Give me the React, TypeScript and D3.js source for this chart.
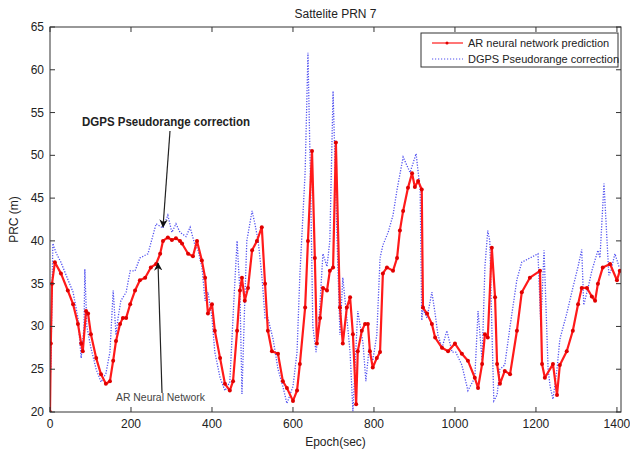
import React from "react";
import * as d3 from "d3";

const xTicks = [0, 200, 400, 600, 800, 1000, 1200, 1400];
const yTicks = [20, 25, 30, 35, 40, 45, 50, 55, 60, 65];

const arEpoch = [0, 2, 5, 12, 27, 44, 57, 69, 77, 81, 89, 94, 101, 114, 126, 138, 148, 156, 163, 173, 180, 188, 198, 210, 222, 235, 249, 262, 272, 279, 291, 301, 311, 321, 326, 341, 353, 363, 375, 383, 390, 400, 407, 420, 432, 444, 452, 462, 469, 474, 481, 489, 499, 511, 523, 531, 538, 548, 563, 575, 585, 600, 610, 617, 630, 637, 647, 654, 659, 667, 674, 684, 691, 699, 706, 716, 723, 733, 741, 748, 756, 760, 770, 778, 785, 790, 797, 807, 815, 822, 832, 847, 857, 864, 872, 884, 894, 901, 909, 918, 921, 931, 943, 951, 968, 983, 1000, 1017, 1032, 1049, 1057, 1067, 1074, 1081, 1091, 1099, 1104, 1111, 1123, 1136, 1153, 1165, 1185, 1210, 1215, 1222, 1242, 1252, 1259, 1276, 1291, 1304, 1313, 1326, 1338, 1346, 1353, 1365, 1383, 1400, 1407];
const arValue = [20, 28, 35, 37.5, 36.2, 34.2, 32.6, 30.3, 28, 27.1, 31.8, 31.5, 29.1, 26.3, 24.4, 23.3, 23.6, 26, 28.3, 30.3, 31, 31, 32.6, 34.2, 35.4, 35.7, 36.9, 37.3, 38.5, 40, 40.4, 40.1, 40.3, 40, 39.7, 38.5, 38.2, 40, 37.7, 35.7, 31.5, 32.6, 29.5, 26.3, 23.3, 22.5, 23.6, 29.5, 34.2, 35.7, 33, 34.5, 38.9, 40, 41.6, 35, 29.5, 27.1, 26.8, 23.6, 22.8, 21.3, 22.5, 25.6, 32.2, 40, 50.5, 38, 28, 31, 34.5, 34.2, 36.5, 36.9, 51.5, 32.2, 28, 32.2, 33.4, 29.1, 20.9, 27.1, 29.5, 30.3, 30.3, 27.1, 25.2, 26.3, 27, 36.2, 36.9, 36.5, 38, 41.2, 43.5, 46.2, 47.9, 46.3, 47, 46, 32.2, 31.5, 30.3, 28.7, 27.5, 27.1, 28, 26.8, 26, 24, 22.8, 25.6, 29.1, 28.7, 39.2, 33.4, 25.6, 23.3, 24.8, 24.4, 29.5, 34, 35.7, 36.5, 25.6, 24, 25.6, 22, 25.5, 27.1, 29.5, 32.6, 34.5, 34.5, 33.5, 33, 35, 36.9, 37.3, 35.4, 36.5];

const dgpsEpoch = [0, 2, 7, 15, 27, 44, 57, 69, 77, 84, 86, 91, 101, 114, 126, 138, 148, 156, 163, 168, 175, 188, 198, 210, 222, 242, 262, 279, 291, 301, 311, 321, 336, 346, 358, 365, 375, 383, 390, 400, 407, 420, 432, 444, 454, 462, 469, 474, 481, 486, 499, 506, 514, 523, 531, 538, 551, 563, 575, 585, 600, 610, 617, 630, 637, 644, 649, 657, 662, 667, 674, 684, 691, 699, 709, 716, 723, 733, 741, 748, 756, 760, 773, 780, 788, 797, 807, 815, 822, 835, 847, 857, 872, 889, 896, 904, 914, 918, 921, 931, 943, 951, 958, 968, 980, 993, 1002, 1017, 1032, 1049, 1057, 1067, 1074, 1081, 1086, 1091, 1096, 1104, 1111, 1123, 1136, 1153, 1165, 1185, 1205, 1212, 1220, 1230, 1235, 1242, 1252, 1259, 1276, 1291, 1304, 1313, 1318, 1331, 1338, 1353, 1358, 1368, 1380, 1385, 1395, 1405, 1410];
const dgpsValue = [24, 25, 39.7, 38.6, 37.5, 35.5, 34, 31, 26.3, 30, 36.7, 30, 27.5, 25, 23.5, 24.5, 27, 34.2, 29, 31, 33, 34, 36.5, 36.5, 38, 38.5, 42, 41.5, 43, 41, 42, 41, 40.5, 41.6, 39.5, 39, 37, 33, 34, 31, 27, 24, 22.5, 23.5, 33, 40, 34, 22.1, 33, 40, 43.5, 42, 40, 36, 31, 31, 28.5, 25, 23, 21, 23, 27, 36, 48, 62, 45, 30, 27, 29, 33, 38.5, 37, 40, 57.5, 40, 29, 35.7, 31, 27, 20.1, 28, 31.8, 28, 23.6, 27.5, 26, 29, 38, 39.5, 41, 43, 46, 49.8, 48, 49, 50.2, 46, 30.7, 32, 31, 34, 31.5, 29, 27.5, 29.5, 27, 27, 25.5, 22.5, 24, 31.8, 26, 37, 41.2, 40, 30, 21.3, 22, 25, 25.5, 30, 35.5, 37.5, 38, 38.5, 30, 38.9, 25, 23, 21.5, 25, 28.5, 31.5, 34.5, 37, 39, 32.5, 35, 36.5, 38.9, 38, 46.7, 36, 36.5, 38.5, 37];

const W = 630;
const H = 454;
const L = 50, R = 621, T = 27, B = 412;

export default function App() {
  const x = d3.scaleLinear().domain([0, 1410]).range([L, R]);
  const y = d3.scaleLinear().domain([20, 65]).range([B, T]);
  const ar = arEpoch.map((e, i) => [e, arValue[i]] as [number, number]);
  const dg = dgpsEpoch.map((e, i) => [e, dgpsValue[i]] as [number, number]);
  const line = d3.line<[number, number]>().x((d) => x(d[0])).y((d) => y(d[1]));
  const font = "Arial, 'Liberation Sans', sans-serif";
  const red = "#ff1a1a";
  const blue = "#5050f0";
  const tickLen = 5;
  return (
    <svg width={W} height={H} style={{ position: "absolute", left: 0, top: 0, background: "#fff" }} fontFamily={font}>
      <defs>
        <clipPath id="plot">
          <rect x={L} y={T} width={R - L} height={B - T} />
        </clipPath>
        <marker id="ah" viewBox="0 0 10 10" refX="9" refY="5" markerWidth="7" markerHeight="7" orient="auto">
          <path d="M0,0 L10,5 L0,10 L3,5 z" fill="#111" />
        </marker>
      </defs>
      <rect x={0} y={0} width={W} height={H} fill="#fff" />
      <text x={(L + R) / 2} y={18} textAnchor="middle" fontSize={12} fill="#222">Sattelite PRN 7</text>
      <g clipPath="url(#plot)">
        <path d={line(dg) || ""} fill="none" stroke={blue} strokeWidth={1.3} strokeDasharray="1.2,1.5" />
        <path d={line(ar) || ""} fill="none" stroke={red} strokeWidth={2.2} strokeLinejoin="round" />
        {ar.map((d, i) => (
          <circle key={i} cx={x(d[0])} cy={y(d[1])} r={2} fill="#e00000" />
        ))}
      </g>
      <rect x={L} y={T} width={R - L} height={B - T} fill="none" stroke="#333" strokeWidth={1} />
      {xTicks.map((t) => (
        <g key={"x" + t}>
          <line x1={x(t)} x2={x(t)} y1={B} y2={B - tickLen} stroke="#333" />
          <line x1={x(t)} x2={x(t)} y1={T} y2={T + tickLen} stroke="#333" />
          <text x={x(t)} y={B + 16} textAnchor="middle" fontSize={12} fill="#222">{t}</text>
        </g>
      ))}
      {yTicks.map((t) => (
        <g key={"y" + t}>
          <line x1={L} x2={L + tickLen} y1={y(t)} y2={y(t)} stroke="#333" />
          <line x1={R} x2={R - tickLen} y1={y(t)} y2={y(t)} stroke="#333" />
          <text x={L - 6} y={y(t) + 4} textAnchor="end" fontSize={12} fill="#222">{t}</text>
        </g>
      ))}
      <text x={(L + R) / 2} y={446} textAnchor="middle" fontSize={12} fill="#222">Epoch(sec)</text>
      <text transform={`translate(18, ${(T + B) / 2}) rotate(-90)`} textAnchor="middle" fontSize={12} fill="#222">PRC (m)</text>
      <g>
        <rect x={421} y={33} width={197} height={34} fill="#fff" stroke="#333" strokeWidth={1} />
        <line x1={432} x2={463} y1={43} y2={43} stroke={red} strokeWidth={1.2} />
        <circle cx={447} cy={43} r={1.5} fill="#e00000" />
        <text x={468} y={47} fontSize={11} fill="#222">AR neural network prediction</text>
        <line x1={432} x2={463} y1={59} y2={59} stroke={blue} strokeWidth={1.2} strokeDasharray="1.2,1.8" />
        <text x={468} y={63} fontSize={11} fill="#222">DGPS Pseudorange correction</text>
      </g>
      <text x={82} y={126} fontSize={13} fill="#222" fontWeight="bold" textLength={168} lengthAdjust="spacingAndGlyphs">DGPS Pseudorange correction</text>
      <line x1={170} y1={131} x2={163} y2={227} stroke="#222" strokeWidth={1.2} markerEnd="url(#ah)" />
      <text x={116} y={401} fontSize={10} fill="#444" textLength={89} lengthAdjust="spacingAndGlyphs">AR Neural Network</text>
      <line x1={162} y1={393} x2={158} y2={263} stroke="#222" strokeWidth={1.2} markerEnd="url(#ah)" />
    </svg>
  );
}
